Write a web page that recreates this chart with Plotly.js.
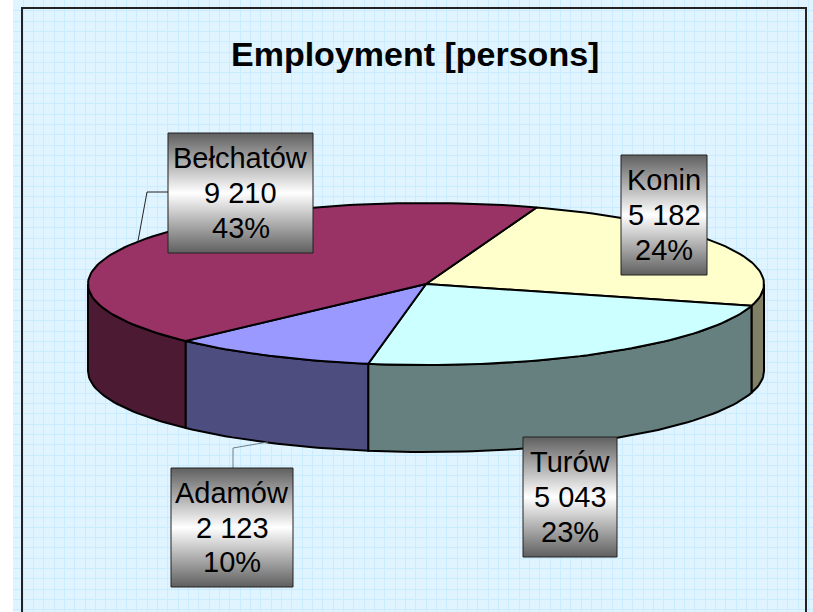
<!DOCTYPE html>
<html>
<head>
<meta charset="utf-8">
<script src="https://cdn.plot.ly/plotly-3.0.1.min.js"></script>
<style>html,body{margin:0;padding:0;background:#fff}</style>
</head>
<body>
<div id="chart" style="width:813px;height:612px"></div>
<script>
const chartTitle = "Employment [persons]";
const categories = ["Konin", "Turów", "Adamów", "Bełchatów"];
const values = [5182, 5043, 2123, 9210];
const topColors = ["#FFFFCC", "#CCFFFF", "#9999FF", "#993366"];
const sideColors = ["#808066", "#668080", "#4D4D80", "#4D1A33"];
const valueLabels = ["5 182", "5 043", "2 123", "9 210"];
const percentLabels = ["24%", "23%", "10%", "43%"];

// pie geometry, in page pixels
const cx = 426, cy = 284, rx = 338, ry = 81, depth = 87, startAngle = 19.1;
const boxes = [[621, 707, 155, 275], [523, 617, 437, 557], [171, 293, 468, 587], [168, 313, 133, 253]];
const leaders = [null, null, [[233, 233, 268], [468, 448, 442]], [[168, 147, 138], [192, 192, 241]]];
const leaderColors = [null, null, "#6f7f86", "#222222"];

const total = values.reduce((a, b) => a + b, 0);
const px = a => cx + rx * Math.sin(a * Math.PI / 180);
const py = a => cy - ry * Math.cos(a * Math.PI / 180);
function arc(a0, a1) {
  const n = Math.max(2, Math.ceil(Math.abs(a1 - a0) / 1.5));
  const pts = [];
  for (let i = 0; i <= n; i++) pts.push(a0 + (a1 - a0) * i / n);
  return pts;
}
let run = startAngle;
const slices = values.map(v => { const s = run; run += v / total * 360; return [s, run]; });

const traces = [];
function poly(x, y, fill, extra) {
  traces.push(Object.assign({
    type: "scatter", mode: "lines", x, y, fill: "toself", fillcolor: fill,
    line: {color: "#000", width: 2}, hoverinfo: "skip", showlegend: false
  }, extra || {}));
}
// side walls, visible only for the near half of the rim (90..270 degrees)
[0, 1, 3, 2].forEach(i => {
  const a0 = Math.max(slices[i][0], 90), a1 = Math.min(slices[i][1], 270);
  if (a1 <= a0) return;
  const a = arc(a0, a1);
  const xs = a.map(px), ysTop = a.map(py), ysBot = ysTop.map(y => y + depth);
  poly(xs.concat(xs.slice().reverse(), [xs[0]]),
       ysTop.concat(ysBot.reverse(), [ysTop[0]]), sideColors[i]);
});
// top faces
slices.forEach((s, i) => {
  const a = arc(s[0], s[1]);
  poly([cx].concat(a.map(px), [cx]), [cy].concat(a.map(py), [cy]), topColors[i]);
});
// leader lines
leaders.forEach((l, i) => {
  if (!l) return;
  traces.push({type: "scatter", mode: "lines", x: l[0], y: l[1],
    line: {color: leaderColors[i], width: 1}, hoverinfo: "skip", showlegend: false});
});
// label boxes
const annotations = [];
const annot = (x, y, text, size, bold) => annotations.push({
  x, y, xref: "x", yref: "y", text: bold ? "<b>" + text + "</b>" : text, showarrow: false,
  xanchor: "center", yanchor: "middle",
  font: {family: "Liberation Sans, Arial, sans-serif", size, color: "#000"}
});
boxes.forEach((b, i) => {
  traces.push({
    type: "scatter", mode: "lines",
    x: [b[0], b[1], b[1], b[0], b[0]], y: [b[2], b[2], b[3], b[3], b[2]],
    fill: "toself",
    fillgradient: {type: "vertical", colorscale: [[0, "#5f5f5f"], [0.5, "#ffffff"], [1, "#5f5f5f"]]},
    line: {color: "#222", width: 1}, hoverinfo: "skip", showlegend: false
  });
  const xm = (b[0] + b[1]) / 2, h = b[3] - b[2];
  [categories[i], valueLabels[i], percentLabels[i]].forEach((t, r) => {
    annot(xm, b[2] + h * (0.21 + r * 0.29), t, 29, false);
  });
});
annot(415, 54, chartTitle, 34, true);

const layout = {
  width: 813, height: 612,
  margin: {l: 13, r: 0, t: 0, b: 0, pad: 0},
  paper_bgcolor: "#ffffff", plot_bgcolor: "#DFF4FF",
  showlegend: false,
  xaxis: {range: [13, 813], tick0: 13, dtick: 10.33, showgrid: true, gridcolor: "#C9EDFF", gridwidth: 1,
          showticklabels: false, ticks: "", zeroline: false, showline: false, fixedrange: true},
  yaxis: {range: [612, 0], tick0: 0.5, dtick: 10.33, showgrid: true, gridcolor: "#C9EDFF", gridwidth: 1,
          showticklabels: false, ticks: "", zeroline: false, showline: false, fixedrange: true},
  shapes: [{type: "rect", xref: "x", yref: "y", x0: 22, x1: 806, y0: 8, y1: 640,
            line: {color: "#222", width: 2}, layer: "above"}],
  annotations
};
Plotly.newPlot("chart", traces, layout, {displayModeBar: false, staticPlot: true});
</script>
</body>
</html>
